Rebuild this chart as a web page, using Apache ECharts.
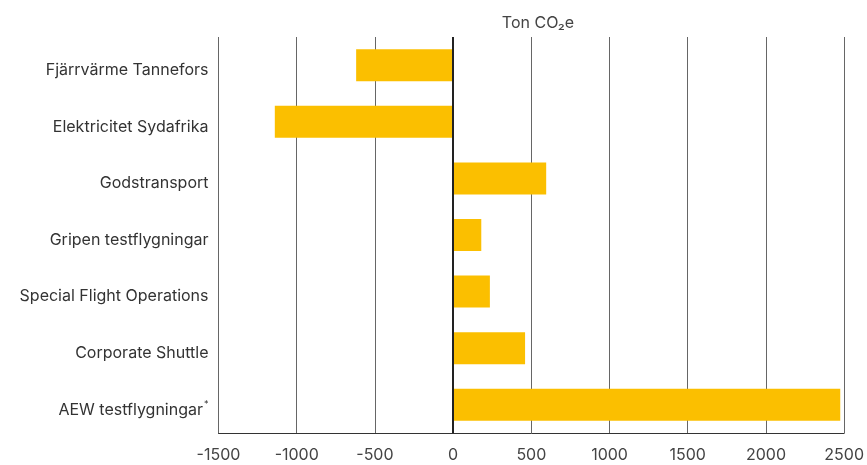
<!DOCTYPE html>
<html>
<head>
<meta charset="utf-8">
<script src="https://cdn.jsdelivr.net/npm/echarts@6/dist/echarts.min.js"></script>
<style>
  html, body { margin: 0; padding: 0; background: #fff; }
  #chart { width: 867px; height: 465px; }
</style>
</head>
<body>
<div id="chart"></div>
<script>
var categories = ['Fjärrvärme Tannefors', 'Elektricitet Sydafrika', 'Godstransport', 'Gripen testflygningar', 'Special Flight Operations', 'Corporate Shuttle', 'AEW testflygningar'];
var values = [-620, -1140, 595, 180, 235, 460, 2475];
var footnoted = ['AEW testflygningar'];

var myChart = echarts.init(document.getElementById('chart'));

var option = {
  animation: false,
  textStyle: { fontFamily: 'Inter, "Noto Sans", sans-serif' },
  title: {
    text: 'Ton CO₂e',
    left: 533,
    textAlign: 'center',
    top: 10,
    textStyle: { fontSize: 16, fontWeight: 'normal', color: '#444' }
  },
  grid: { left: 218.5, right: 21, top: 37, bottom: 32 },
  xAxis: {
    type: 'value',
    min: -1500,
    max: 2500,
    interval: 500,
    axisLine: { show: true, onZero: false, lineStyle: { color: '#333', width: 1 } },
    axisTick: { show: false },
    axisLabel: {
      fontSize: 16,
      color: '#444',
      margin: 14,
      formatter: function (v) { return String(v); }
    },
    splitLine: { show: true, lineStyle: { color: '#666', width: 1 } }
  },
  yAxis: {
    type: 'category',
    data: categories,
    inverse: true,
    axisLine: { show: false },
    axisTick: { show: false },
    axisLabel: {
      fontSize: 16,
      color: '#333',
      margin: 10,
      padding: [10, 0, 0, 0],
      formatter: function (v) {
        return footnoted.indexOf(v) >= 0 ? v + '{s|*}' : v;
      },
      rich: { s: { fontSize: 9, color: '#333', verticalAlign: 'top', padding: [0, 0, 10, 1] } }
    }
  },
  series: [{
    type: 'bar',
    data: values,
    barWidth: 32,
    itemStyle: { color: '#FBBF00' },
    markLine: {
      silent: true,
      symbol: 'none',
      label: { show: false },
      lineStyle: { color: '#222', width: 2, type: 'solid' },
      data: [{ xAxis: 0 }]
    }
  }]
};

myChart.setOption(option);
window.addEventListener('resize', function () { myChart.resize(); });
</script>
</body>
</html>
